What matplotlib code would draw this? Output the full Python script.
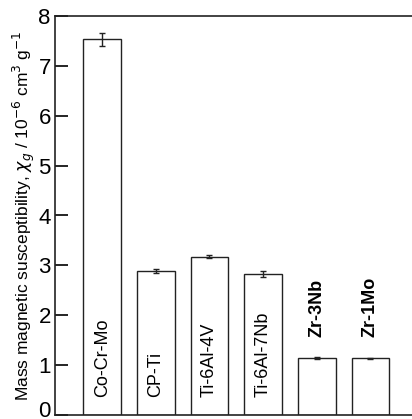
import matplotlib.pyplot as plt
import matplotlib.transforms as mtransforms
import numpy as np

plt.rcParams["font.family"] = ["Liberation Sans", "DejaVu Sans"]

alloys = ["Co-Cr-Mo", "CP-Ti", "Ti-6Al-4V", "Ti-6Al-7Nb", "Zr-3Nb", "Zr-1Mo"]
chi_g = [7.53, 2.89, 3.17, 2.82, 1.14, 1.14]
chi_err = [0.13, 0.04, 0.03, 0.06, 0.02, 0.01]
label_above = [False, False, False, False, True, True]

fig = plt.figure(figsize=(4.12, 4.19), dpi=100)
ax = fig.add_axes([55 / 412, 4 / 419, 369 / 412, 399 / 419])

x = np.arange(len(alloys))
ax.bar(x, chi_g, width=0.7, color="white", edgecolor="#222222", linewidth=1.0,
       yerr=chi_err, error_kw=dict(ecolor="#222222", elinewidth=1.0, capsize=2.5, capthick=1.0))

for xi, name, val, above in zip(x, alloys, chi_g, label_above):
    if above:
        ax.text(xi, val + 0.42, name, rotation=90, ha="center", va="bottom",
                fontsize=13, fontweight="bold")
    else:
        ax.text(xi, 0.36, name, rotation=90, ha="center", va="bottom", fontsize=13)

ax.set_xlim(-0.88, 6.0)
ax.set_ylim(0, 8)
ax.set_yticks(range(0, 9))
ax.set_xticks([])
ax.tick_params(axis="y", direction="in", length=9, width=1.2, labelsize=16, pad=3)
ax.set_ylabel(r"Mass magnetic susceptibility, $\chi_g$ / 10$^{-6}$ cm$^3$ g$^{-1}$",
              fontsize=12.5, labelpad=1)
for s in ax.spines.values():
    s.set_linewidth(1.2)
    s.set_color("#222222")

# nudge the "0" label up a little so it stays inside the image
fig.canvas.draw()
zero_lbl = ax.get_yticklabels()[0]
zero_lbl.set_transform(zero_lbl.get_transform()
                       + mtransforms.ScaledTranslation(0, 6 / 100, fig.dpi_scale_trans))

fig.savefig("out.png", dpi=100)
